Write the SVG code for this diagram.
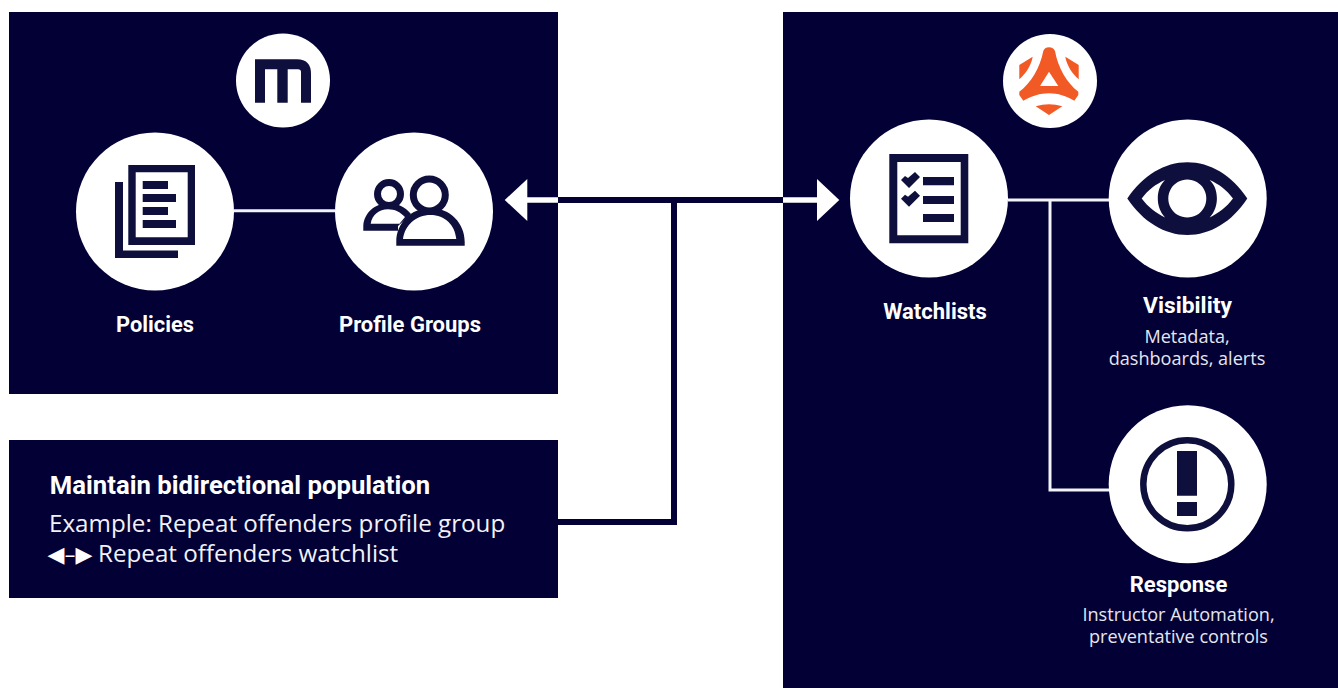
<svg xmlns="http://www.w3.org/2000/svg" width="1338" height="688" viewBox="0 0 1338 688">
<style>
.panel{fill:#020035}
.disc{fill:#fff}
.ic{fill:#0f0f3d}
.or{fill:#f15a24}
.b{font-family:"Roboto","Liberation Sans",sans-serif;font-weight:700;fill:#fff;text-anchor:middle}
.r{font-family:"Open Sans","Liberation Sans",sans-serif;fill:#e6e6ee;font-size:18.100px;text-anchor:middle}
.n{font-family:"Open Sans","Liberation Sans",sans-serif;fill:#f2f2f7;font-size:24.200px}
.w{fill:none;stroke:#f2f2f7;stroke-width:3}
.d{fill:none;stroke:#020035;stroke-width:6}
</style>
<rect width="1338" height="688" fill="#fff"/>
<g id="panels">
<rect class="panel" x="9" y="12" width="549" height="382"/>
<rect class="panel" x="783" y="12" width="555" height="676"/>
</g>
<g id="connectors">
<path class="w" d="M234 210.700H335"/>
<path class="w" d="M1008 200H1109M1050 200V490H1109"/>
<path class="d" d="M558 200H783M674 200V522H558"/>
<path d="M558 197.200H527.300V179L504.700 200L527.300 221V202.800H558Z" fill="#fff"/>
<path d="M783 197.200H817V179L839.300 200L817 221V202.800H783Z" fill="#fff"/>
</g>
<g id="mimecast-logo">
<circle class="disc" cx="283" cy="80.500" r="47"/>
<path class="ic" d="M255 59.300H297Q311 59.300 311 74V102.700H301V72Q301 69.300 298 69.300H287.700V102.700H277.300V69.300H265V102.700H255Z"/>
</g>
<g id="policies">
<circle class="disc" cx="155" cy="211.500" r="79"/>
<path class="ic" d="M115 182H123V250.600H178V258H115Z"/>
<path class="ic" fill-rule="evenodd" d="M128.300 165H195V245H128.300ZM135.700 172.300V237.300H187.700V172.300Z"/>
<path class="ic" d="M142.700 181H168V189H142.700ZM142.700 194H176V202H142.700ZM142.700 207H168V215H142.700ZM142.700 220H176V228H142.700Z"/>
<text class="b" x="155" y="331.700" font-size="21.800">Policies</text>
</g>
<g id="profile-groups">
<circle class="disc" cx="414" cy="211.500" r="79"/>
<circle cx="389" cy="194" r="11.500" fill="none" stroke="#0f0f3d" stroke-width="7"/>
<circle cx="429.300" cy="195" r="16" fill="none" stroke="#0f0f3d" stroke-width="7"/>
<path class="ic" fill-rule="evenodd" d="M363.300 230.700V226C364 213 375 203.300 388 203.300C398 203.300 405 207 411 214L398 226V230.700ZM370.700 223.700H399.500L405 217C400 212 395 209.300 388 209.300C379 209.300 372 215 370.700 223.700Z"/>
<path class="ic" fill-rule="evenodd" d="M396.300 245.700V242C396.300 223 411 208 430.500 208C450 208 464.700 223 464.700 242V245.700ZM403 239H456.300C455 225 445 215 430.500 215C416 215 405 225 403 239Z"/>
<text class="b" x="410" y="331.700" font-size="22">Profile Groups</text>
</g>
<g id="note">
<rect class="panel" x="9" y="440" width="549" height="158"/>
<text class="b" x="240" y="494" font-size="25.700">Maintain bidirectional population</text>
<text class="n" x="49" y="532">Example: Repeat offenders profile group</text>
<text x="47.500" y="562" font-family="DejaVu Sans" font-size="22" fill="#fff" textLength="45" lengthAdjust="spacing">◀–▶</text>
<text class="n" x="98" y="562">Repeat offenders watchlist</text>
</g>
<g id="arctic-wolf-logo">
<circle class="disc" cx="1050" cy="81" r="47"/>
<path class="or" fill-rule="evenodd" d="M1049 47.300C1052 47.300 1054 49 1055 51C1058 68 1067 83 1078.300 91.700V95L1074.300 100.700C1066 96 1058 93.300 1049 93.300C1040 93.300 1032 96 1023.300 100.700L1019.300 95V91.700C1031 83 1040 68 1043.300 51C1044 49 1046 47.300 1049 47.300ZM1049 71.700L1040 86H1058.300Z"/>
<path class="or" d="M1019.300 65L1032.700 56.700C1031 66 1026 73 1019.300 79.300ZM1078.700 65L1065.300 56.700C1067 66 1072 73 1078.700 79.300ZM1035.700 106.300Q1049 102 1062.300 106.300L1049 115Z"/>
</g>
<g id="watchlists">
<circle class="disc" cx="929" cy="198.500" r="79"/>
<path class="ic" fill-rule="evenodd" d="M889.300 154H968.300V243.300H889.300ZM897.300 162V235.300H960.700V162Z"/>
<path class="ic" d="M923 177H954V185.300H923ZM923 196H954V204H923ZM923 214H954V222H923Z"/>
<path class="ic" d="M901 180L905 176L908 178L915 172L920 177L909 188ZM901 198.700L905 194.700L908 196.700L915 190.700L920 195.700L909 206.700Z"/>
<text class="b" x="935" y="318.700" font-size="22">Watchlists</text>
</g>
<g id="visibility">
<circle class="disc" cx="1187.700" cy="198.500" r="79"/>
<path class="ic" fill-rule="evenodd" d="M1127.300 198.500C1143 175 1165 162.300 1187.300 162.300C1210 162.300 1232 175 1247.300 198.500C1232 222 1210 235 1187.300 235C1165 235 1143 222 1127.300 198.500ZM1141.700 198.500C1148 207 1156 213 1165 217.500C1160 212 1157.800 205 1157.800 198.500C1157.800 191 1160 185 1165 180C1156 184 1148 190 1141.700 198.500ZM1233 198.500C1226.700 190 1218.700 184 1209.700 180C1214.700 185 1216.900 191 1216.900 198.500C1216.900 205 1214.700 212 1209.700 217.500C1218.700 213 1226.700 207 1233 198.500ZM1187.300 179.500A19 19 0 1 0 1187.301 179.500Z"/>
<text class="b" x="1187.500" y="313" font-size="22.800">Visibility</text>
<text class="r" x="1187" y="343">Metadata,</text>
<text class="r" x="1187" y="365">dashboards, alerts</text>
</g>
<g id="response">
<circle class="disc" cx="1187.700" cy="484.300" r="79"/>
<circle cx="1187.300" cy="484.300" r="44" fill="none" stroke="#0f0f3d" stroke-width="6.500"/>
<path class="ic" d="M1177 451H1197V495.700H1177ZM1177 502H1197V516H1177Z"/>
<text class="b" x="1178.500" y="592" font-size="22">Response</text>
<text class="r" x="1178.500" y="621">Instructor Automation,</text>
<text class="r" x="1178.500" y="643">preventative controls</text>
</g>
</svg>
